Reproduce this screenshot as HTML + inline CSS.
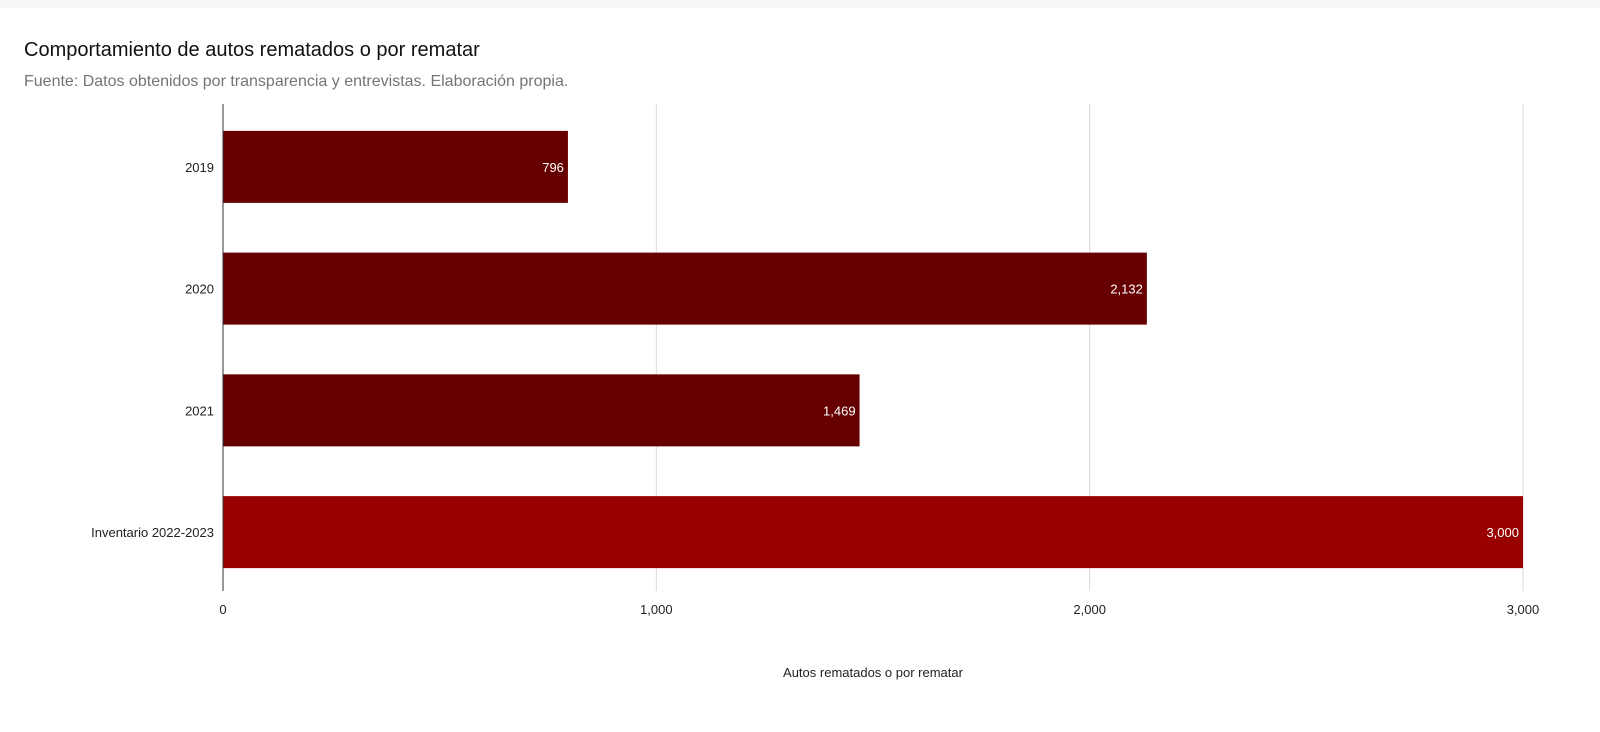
<!DOCTYPE html>
<html><head><meta charset="utf-8"><style>
body{margin:0;background:#fff;}
svg{display:block;font-family:"Liberation Sans",sans-serif;}
</style></head><body>
<svg width="1600" height="732" viewBox="0 0 1600 732">
<rect x="0" y="0" width="1600" height="8" fill="#f7f8f9"/>
<text x="24" y="56" font-size="20" fill="#111">Comportamiento de autos rematados o por rematar</text>
<text x="24" y="86" font-size="16" fill="#757575">Fuente: Datos obtenidos por transparencia y entrevistas. Elaboración propia.</text>
<g id="grid"></g>
<g id="bars"></g>
<line x1="223" y1="104" x2="223" y2="591" stroke="#333" stroke-width="1"/>
<text x="873" y="677" font-size="13" text-anchor="middle" fill="#222">Autos rematados o por rematar</text>
</svg>
<script>
const categories = ["2019","2020","2021","Inventario 2022-2023"];
const values = [796, 2132, 1469, 3000];
const valueLabels = ["796","2,132","1,469","3,000"];
const tickValues = [0,1000,2000,3000];
const tickLabels = ["0","1,000","2,000","3,000"];
const barColors = ["#660000","#660000","#660000","#990000"];

const NS="http://www.w3.org/2000/svg";
const x0=223,x1=1523,maxV=3000,yTop=104,yBot=591;
const xs=v=>x0+(v/maxV)*(x1-x0);
const band=(yBot-yTop)/categories.length;
const bh=72;
const grid=document.getElementById('grid');
tickValues.forEach((t,i)=>{
  const l=document.createElementNS(NS,'line');
  l.setAttribute('x1',xs(t));l.setAttribute('x2',xs(t));
  l.setAttribute('y1',yTop);l.setAttribute('y2',yBot);
  l.setAttribute('stroke','#d9d9d9');
  
  
  grid.appendChild(l);
  const tx=document.createElementNS(NS,'text');
  tx.setAttribute('x',xs(t));tx.setAttribute('y',614);
  tx.setAttribute('font-size','13');tx.setAttribute('text-anchor','middle');tx.setAttribute('fill','#222');
  tx.textContent=tickLabels[i];
  
  
  grid.appendChild(tx);
});
const bars=document.getElementById('bars');
categories.forEach((c,i)=>{
  const cy=yTop+band*(i+0.5)+2;
  const r=document.createElementNS(NS,'rect');
  r.setAttribute('x',x0);r.setAttribute('y',cy-bh/2);
  r.setAttribute('width',xs(values[i])-x0);r.setAttribute('height',bh);
  r.setAttribute('fill',barColors[i]);
  
  
  bars.appendChild(r);
  const v=document.createElementNS(NS,'text');
  v.setAttribute('x',xs(values[i])-4);v.setAttribute('y',cy+5);
  v.setAttribute('font-size','13');v.setAttribute('text-anchor','end');v.setAttribute('fill','#fff');
  v.textContent=valueLabels[i];
  
  
  bars.appendChild(v);
  const cl=document.createElementNS(NS,'text');
  cl.setAttribute('x',214);cl.setAttribute('y',cy+5);
  cl.setAttribute('font-size','13');cl.setAttribute('text-anchor','end');cl.setAttribute('fill','#222');
  cl.textContent=c;
  
  
  bars.appendChild(cl);
});
</script>
</body></html>
